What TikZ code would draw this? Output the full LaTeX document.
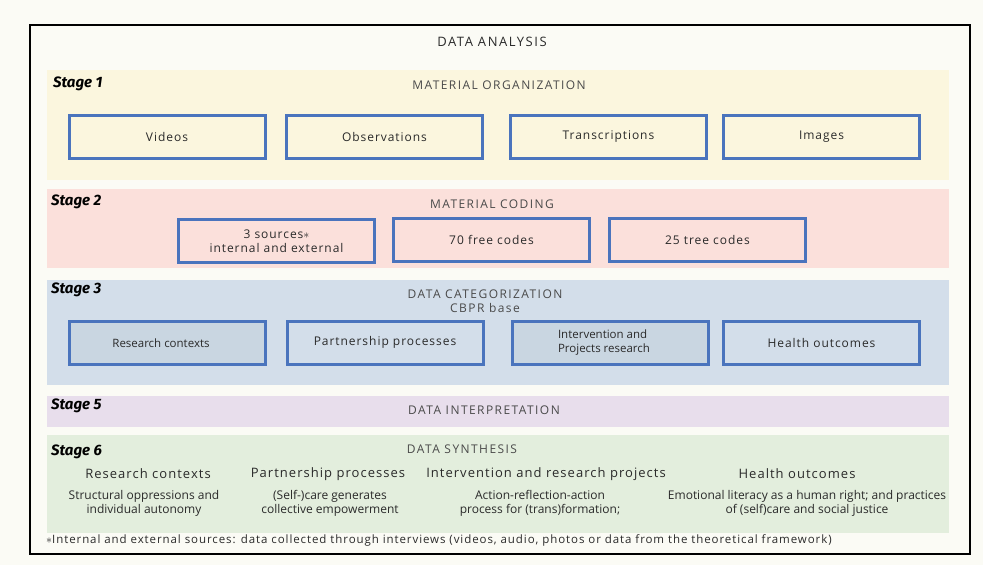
\documentclass[tikz,border=0pt]{standalone}
\usepackage{fontspec}
\setmainfont{Open Sans}
\newfontfamily\spc[LetterSpace=8]{Open Sans}
\newfontfamily\spw[LetterSpace=12]{Open Sans}
\newfontfamily\stagefont{Fira Sans}
\definecolor{bg}{HTML}{FBFBF5}
\definecolor{s1}{HTML}{FBF6DE}
\definecolor{s2}{HTML}{FBE0DB}
\definecolor{s3}{HTML}{D3DEEA}
\definecolor{s5}{HTML}{E8DEEC}
\definecolor{s6}{HTML}{E3EEDD}
\definecolor{bb}{HTML}{4A74BD}
\definecolor{dk}{HTML}{C9D6E1}
\definecolor{tx}{HTML}{2A2A2A}
\definecolor{hd}{HTML}{4A4A4A}
\tikzset{
  obox/.style={draw=bb, line width=3pt, minimum width=196pt, minimum height=43pt, inner sep=1pt, align=center, text=tx, font=\spc\fontsize{12}{13}\selectfont},
  plain/.style={text=tx, inner sep=0pt, align=left, font=\fontsize{11.5}{13.5}\selectfont},
  stagel/.style={anchor=west, text=black, font=\stagefont\bfseries\itshape\fontsize{15}{17}\selectfont, inner sep=0pt},
  head/.style={text=hd, font=\spw\fontsize{12}{14.5}\selectfont, inner sep=0pt, align=center},
  sub/.style={text=tx, font=\spc\fontsize{13}{15}\selectfont, inner sep=0pt},
  desc/.style={text=tx, font=\fontsize{12}{14}\selectfont, inner sep=0pt, align=center},
}
\begin{document}
\begin{tikzpicture}[x=1pt,y=-1pt]
\fill[bg] (0,0) rectangle (983,565);
\useasboundingbox (0,0) rectangle (983,565);
\draw[line width=2pt, black, fill=bg] (30,25) rectangle (970,554);
\node[text=tx, font=\spw\fontsize{13}{15}\selectfont, inner sep=0pt] (title) at (492,42) {DATA ANALYSIS};
% bands
\fill[s1] (47,70) rectangle (949,180);
\fill[s2] (47,189) rectangle (949,268);
\fill[s3] (47,280) rectangle (949,385);
\fill[s5] (47,396) rectangle (949,427);
\fill[s6] (47,435) rectangle (949,533);
% stage labels
\node[stagel] (st1) at (53,84) {Stage 1};
\node[stagel] (st2) at (51,202) {Stage 2};
\node[stagel] (st3) at (51,290) {Stage 3};
\node[stagel] (st5) at (51,406) {Stage 5};
\node[stagel] (st6) at (51,452) {Stage 6};
% headers
\node[head] (h1) at (499,85) {MATERIAL ORGANIZATION};
\node[head] (h2) at (492,204) {MATERIAL CODING};
\node[head] (h3) at (485,301) {DATA CATEGORIZATION\\CBPR base};
\node[head] (h5) at (484,410) {DATA INTERPRETATION};
\node[head] (h6) at (462,449) {DATA SYNTHESIS};
% stage 1 boxes
\node[obox] (b11) at (167,137) {Videos};
\node[obox] (b12) at (384.5,137) {Observations};
\node[obox] (b13) at (608.5,137) {Transcriptions};
\node[obox] (b14) at (821.5,137) {Images};
% stage 2 boxes
\node[obox, font=\spc\fontsize{12}{14}\selectfont] (b21) at (276.5,241) {3 sources$\ast$\\internal and external};
\node[obox] (b22) at (491.5,240) {70 free codes};
\node[obox] (b23) at (707.5,240) {25 tree codes};
% stage 3 boxes
\node[obox, fill=dk] (b31) at (167,342.5) {};
\node[plain] (t31) at (161,343) {Research contexts};
\node[obox] (b32) at (385,342.5) {Partnership processes};
\node[obox, fill=dk] (b33) at (610,342.5) {};
\node[plain] (t33) at (604,342.5) {Intervention and\\Projects research};
\node[obox] (b34) at (821.5,342.5) {Health outcomes};
% stage 6
\node[sub] (c1) at (148,474) {Research contexts};
\node[sub] (c2) at (328,474) {Partnership processes};
\node[sub] (c3) at (546,474) {Intervention and research projects};
\node[sub] (c4) at (797,474) {Health outcomes};
\node[desc] (d1) at (144,503) {Structural oppressions and\\individual autonomy};
\node[desc] (d2) at (330,503) {(Self-)care generates\\collective empowerment};
\node[desc] (d3) at (540,503) {Action-reflection-action\\process for (trans)formation;};
\node[desc] (d4) at (807,503) {Emotional literacy as a human right; and practices\\of (self)care and social justice};
% footnote
\node[anchor=west, text=tx, font=\spc\fontsize{11.5}{13}\selectfont, inner sep=0pt] (fn) at (46,540) {$\ast$Internal and external sources: data collected through interviews (videos, audio, photos or data from the theoretical framework)};
\end{tikzpicture}
\end{document}
